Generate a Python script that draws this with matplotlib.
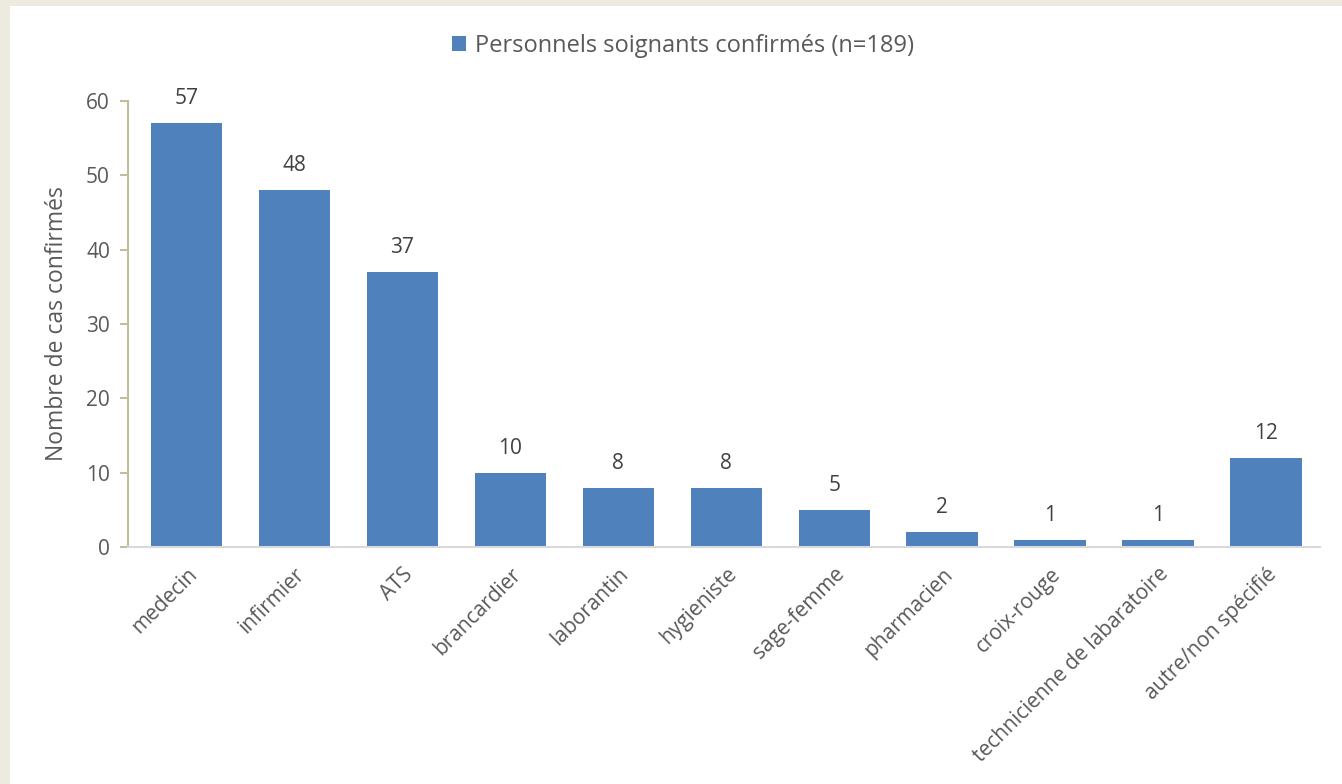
import matplotlib.pyplot as plt
from matplotlib.patches import Rectangle

categories = ["medecin", "infirmier", "ATS", "brancardier", "laborantin",
              "hygieniste", "sage-femme", "pharmacien", "croix-rouge",
              "technicienne de labaratoire", "autre/non spécifié"]
cases = [57, 48, 37, 10, 8, 8, 5, 2, 1, 1, 12]
series_name = "Personnels soignants confirmés (n=189)"

plt.rcParams['font.family'] = ['Open Sans', 'DejaVu Sans']

fig = plt.figure(figsize=(13.42, 7.84), dpi=100)
fig.patch.set_facecolor('#EDEAE0')
# white panel inside the beige frame
fig.patches.append(Rectangle((10 / 1342, 0), 1, (784 - 6) / 784,
                             transform=fig.transFigure, facecolor='white',
                             edgecolor='none', zorder=-10))

ax = fig.add_axes([128 / 1342, (784 - 547) / 784, (1320 - 128) / 1342, (547 - 101) / 784])
ax.set_facecolor('none')
ax.set_zorder(1)

x = range(len(categories))
bars = ax.bar(x, cases, width=0.66, color='#4F81BD', label=series_name, zorder=2)

for xi, v in zip(x, cases):
    ax.annotate(str(v), (xi, v), xytext=(0, 10), textcoords='offset points',
                ha='center', va='bottom', fontsize=15, color='#404040')

ax.set_xlim(-0.54, len(categories) - 0.5)
ax.set_ylim(0, 60)
ax.set_yticks(range(0, 61, 10))
ax.set_xticks(list(x))
ax.set_xticklabels(categories, rotation=45, ha='right', rotation_mode='anchor')

ax.spines['top'].set_visible(False)
ax.spines['right'].set_visible(False)
ax.spines['left'].set_color('#C4BD97')
ax.spines['bottom'].set_color('#D9D9D9')
ax.spines['left'].set_linewidth(1.5)
ax.spines['bottom'].set_linewidth(1.5)
ax.tick_params(axis='y', colors='#C4BD97', labelcolor='#595959', labelsize=15,
               length=6, width=1.5, direction='out', pad=7)
ax.tick_params(axis='x', length=0, labelcolor='#595959', labelsize=15, pad=12)

ax.set_ylabel("Nombre de cas confirmés", fontsize=16.5, color='#595959', labelpad=12)

leg = fig.legend(loc='center', bbox_to_anchor=(683 / 1342, 1 - 46 / 784),
                 frameon=False, fontsize=17, handlelength=0.6, handleheight=0.6,
                 handletextpad=0.4, labelcolor='#595959')

fig.savefig("out.png", dpi=100, facecolor=fig.get_facecolor())
